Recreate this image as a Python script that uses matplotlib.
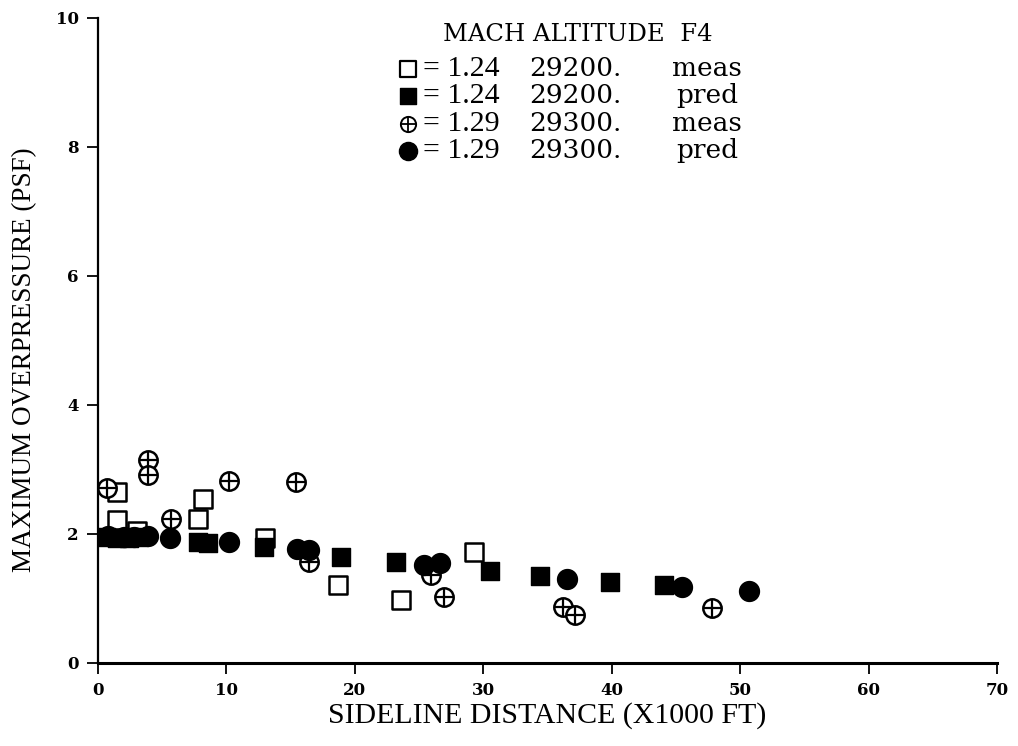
import matplotlib
matplotlib.use("Agg")
import matplotlib.pyplot as plt

# ------------------------------------------------------
# data (x in 1000 ft, y in psf)
meas124_x = [1.5, 1.5, 3.0, 7.8, 8.2, 13.0, 18.7, 23.6, 29.3]
meas124_y = [2.65, 2.22, 2.05, 2.23, 2.54, 1.94, 1.21, 0.98, 1.72]

pred124_x = [0.6, 1.5, 2.4, 3.2, 7.8, 8.6, 12.9, 18.9, 23.2, 30.5, 34.4, 39.9, 44.1]
pred124_y = [1.95, 1.94, 1.94, 1.95, 1.87, 1.86, 1.80, 1.64, 1.57, 1.43, 1.35, 1.26, 1.21]

meas129_x = [0.7, 3.9, 3.9, 5.7, 10.2, 15.4, 16.4, 25.9, 26.9, 36.2, 37.1, 47.8]
meas129_y = [2.71, 3.15, 2.91, 2.23, 2.82, 2.81, 1.57, 1.37, 1.02, 0.87, 0.75, 0.86]

pred129_x = [0.8, 2.0, 2.8, 3.9, 5.6, 10.2, 15.5, 16.4, 25.4, 26.6, 36.5, 45.5, 50.7]
pred129_y = [1.97, 1.96, 1.96, 1.97, 1.94, 1.87, 1.77, 1.75, 1.52, 1.55, 1.30, 1.18, 1.12]

x_ticks = [0, 10, 20, 30, 40, 50, 60, 70]
y_ticks = [0, 2, 4, 6, 8, 10]

legend_rows = [
    ("= 1.24", "29200.", "meas"),
    ("= 1.24", "29200.", "pred"),
    ("= 1.29", "29300.", "meas"),
    ("= 1.29", "29300.", "pred"),
]

# ------------------------------------------------------
plt.rcParams['font.family'] = ['Liberation Serif', 'DejaVu Serif']

fig = plt.figure(figsize=(10.18, 7.46), dpi=100)
ax = fig.add_axes([0.0963, 0.1113, 0.8831, 0.8646])

ax.set_xlim(0, 70)
ax.set_ylim(0, 10)

ax.spines['top'].set_visible(False)
ax.spines['right'].set_visible(False)
ax.spines['left'].set_linewidth(1.6)
ax.spines['bottom'].set_linewidth(2.2)

ax.set_xticks(x_ticks)
ax.set_yticks(y_ticks)
ax.tick_params(axis='both', direction='out', length=8, width=1.3, labelsize=12, pad=6)
for lab in ax.get_xticklabels() + ax.get_yticklabels():
    lab.set_fontweight('bold')
    lab.set_family('DejaVu Serif')

ax.set_xlabel("SIDELINE DISTANCE (X1000 FT)", fontsize=21.5, labelpad=2)
ax.set_ylabel("MAXIMUM OVERPRESSURE (PSF)", fontsize=19.5)
ax.yaxis.set_label_coords(-0.068, 0.47)

ms = 175
# open squares
ax.scatter(meas124_x, meas124_y, marker='s', s=ms, facecolors='white',
           edgecolors='black', linewidths=1.8, zorder=3)
# crossed circles
ax.scatter(meas129_x, meas129_y, marker='o', s=ms, facecolors='white',
           edgecolors='black', linewidths=1.8, zorder=4)
ax.scatter(meas129_x, meas129_y, marker='+', s=ms, color='black',
           linewidths=1.6, zorder=5)
# filled squares and circles
ax.scatter(pred124_x, pred124_y, marker='s', s=ms, color='black', zorder=6)
ax.scatter(pred129_x, pred129_y, marker='o', s=ms + 30, color='black', zorder=6)

# ------------------------------------------------------
# legend block drawn as text
tr = ax.transAxes
def ax_pt(px, py):
    # figure pixel -> axes fraction
    return (px - 98) / (997 - 98), (663 - py) / (663 - 18)

leg_font = dict(family='DejaVu Serif', fontsize=19)

hx, hy = ax_pt(578, 35)
ax.text(hx, hy, "MACH ALTITUDE  F4", transform=tr, ha='center', va='center',
        family='DejaVu Serif', fontsize=17.5)

row_y = [69, 96, 124, 151]
sym_kw = [
    dict(marker='s', s=120, facecolors='white', edgecolors='black', linewidths=1.6),
    dict(marker='s', s=120, color='black'),
    dict(marker='o', s=120, facecolors='white', edgecolors='black', linewidths=1.4),
    dict(marker='o', s=170, color='black'),
]
for (mach, alt, kind), py, kw in zip(legend_rows, row_y, sym_kw):
    sx, sy = ax_pt(408, py)
    ax.scatter([sx], [sy], transform=tr, clip_on=False, zorder=7, **kw)
    if kind == "meas" and mach == "= 1.29":
        ax.scatter([sx], [sy], transform=tr, marker='+', s=120, color='black',
                   linewidths=1.3, clip_on=False, zorder=8)
    x1, _ = ax_pt(423, py)
    x2, _ = ax_pt(575, py)
    x3, _ = ax_pt(707, py)
    ax.text(x1, sy, mach, transform=tr, ha='left', va='center',
            family='Liberation Serif', fontsize=21.5)
    ax.text(x2, sy, alt, transform=tr, ha='center', va='center', **leg_font)
    ax.text(x3, sy, kind, transform=tr, ha='center', va='center', **leg_font)

fig.savefig("out.png", dpi=100)
